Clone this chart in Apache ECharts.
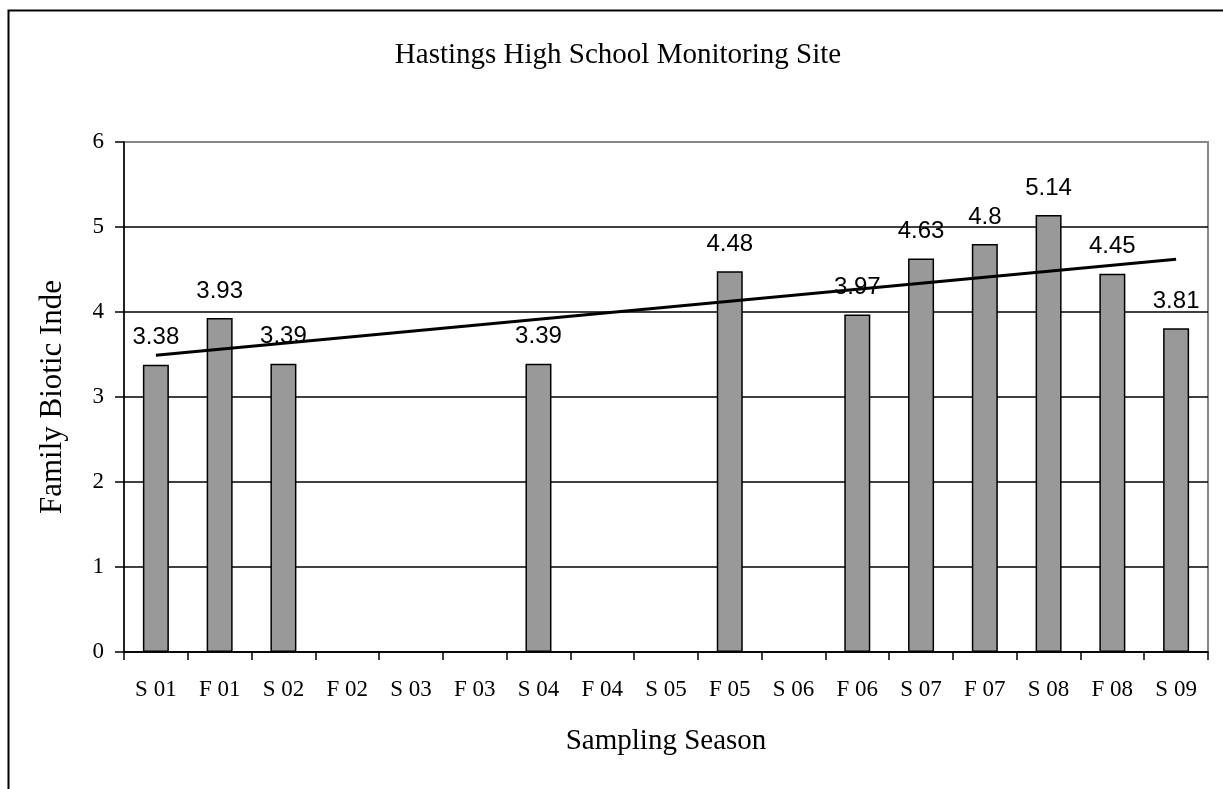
<!DOCTYPE html>
<html>
<head>
<meta charset="utf-8">
<script src="https://cdn.jsdelivr.net/npm/echarts@6/dist/echarts.min.js"></script>
<style>html,body{margin:0;padding:0;background:#fff;}#c{width:1223px;height:789px;}</style>
</head>
<body>
<div id="c"></div>
<script>
var categories = ['S 01','F 01','S 02','F 02','S 03','F 03','S 04','F 04','S 05','F 05','S 06','F 06','S 07','F 07','S 08','F 08','S 09'];
var fbiValues = [3.38, 3.93, 3.39, null, null, null, 3.39, null, null, 4.48, null, 3.97, 4.63, 4.8, 5.14, 4.45, 3.81];
var trendEnds = [3.49, 4.62];
var yTicks = [0, 1, 2, 3, 4, 5, 6];

var trendData = categories.map(function (c, i) {
  if (i === 0) return trendEnds[0];
  if (i === categories.length - 1) return trendEnds[1];
  return null;
});

var chart = echarts.init(document.getElementById('c'), null, {renderer: 'canvas'});
var serif = '"Liberation Serif", "Times New Roman", serif';
chart.setOption({
  animation: false,
  backgroundColor: '#fff',
  title: {
    text: 'Hastings High School Monitoring Site',
    left: 613, top: 36, textAlign: 'center',
    textStyle: {fontFamily: serif, fontSize: 29, fontWeight: 'normal', color: '#000'}
  },
  graphic: [{
    type: 'rect', left: 6, top: 8, z: 100, silent: true,
    shape: {x: 0, y: 0, width: 1240, height: 820},
    style: {fill: 'none', stroke: '#000', lineWidth: 2}
  }],
  grid: {left: 124, right: 15, top: 142, bottom: 137, show: true, borderColor: '#888', borderWidth: 2, backgroundColor: 'transparent'},
  xAxis: {
    type: 'category', data: categories, boundaryGap: true,
    name: 'Sampling Season', nameLocation: 'middle', nameGap: 75,
    nameTextStyle: {fontFamily: serif, fontSize: 29, color: '#000'},
    axisLine: {show: true, lineStyle: {color: '#000', width: 1.5}},
    axisTick: {show: true, inside: false, length: 8, alignWithLabel: false, lineStyle: {color: '#000', width: 1.5}},
    axisLabel: {fontFamily: serif, fontSize: 23, color: '#000', margin: 26, interval: 0},
    splitLine: {show: false}
  },
  yAxis: {
    type: 'value', min: yTicks[0], max: yTicks[yTicks.length - 1], interval: 1,
    name: 'Family Biotic Index', nameLocation: 'middle', nameGap: 56, nameRotate: 90,
    nameTruncate: {maxWidth: 240, ellipsis: ''},
    nameTextStyle: {fontFamily: serif, fontSize: 31, color: '#000', padding: [0, 0, 0, 0]},
    axisLine: {show: true, lineStyle: {color: '#000', width: 1.5}},
    axisTick: {show: true, inside: false, length: 9, lineStyle: {color: '#000', width: 1.5}},
    axisLabel: {fontFamily: serif, fontSize: 23, color: '#000', margin: 20},
    splitLine: {show: true, lineStyle: {color: ['#000','#000','#000','#000','#000','#000','#888'], width: 1.5}}
  },
  series: [{
    type: 'bar', data: fbiValues, barWidth: 26,
    itemStyle: {color: '#999999', borderColor: '#000', borderWidth: 1.5},
    label: {show: true, position: 'top', distance: 15, fontFamily: '"Liberation Sans", Arial, sans-serif', fontSize: 24, color: '#000'},
    z: 2
  }, {
    type: 'line', data: trendData, connectNulls: true, symbol: 'none',
    lineStyle: {color: '#000', width: 3}, z: 3, silent: true
  }]
});
</script>
</body>
</html>
